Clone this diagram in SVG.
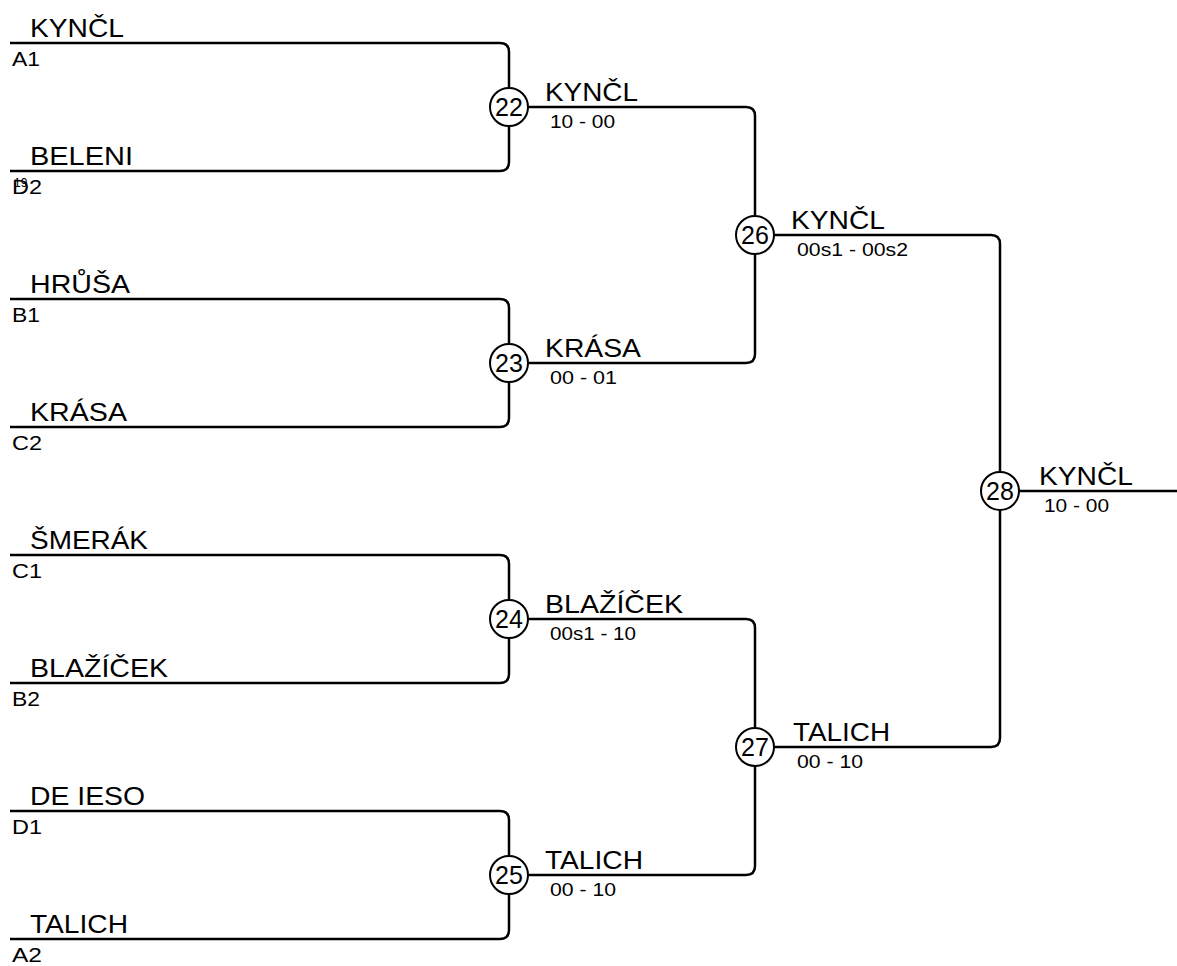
<svg xmlns="http://www.w3.org/2000/svg" width="1177" height="966" viewBox="0 0 1177 966">
<style>
text{font-family:"Liberation Sans",Arial,sans-serif;fill:#000}
.ln{fill:none;stroke:#000;stroke-width:2.5}
.c{fill:#fff;stroke:#000;stroke-width:2}
.nm{font-size:25.5px}
.cd{font-size:21px}
.sc{font-size:18px}
.no{font-size:25px;text-anchor:middle}
.tiny{font-size:12px}
</style>
<rect width="1177" height="966" fill="#fff"/>
<g id="connectors">
<path class="ln" d="M10,43 H500 Q509,43 509,52 V162 Q509,171 500,171 H10"/>
<path class="ln" d="M10,299 H500 Q509,299 509,308 V418 Q509,427 500,427 H10"/>
<path class="ln" d="M10,555 H500 Q509,555 509,564 V674 Q509,683 500,683 H10"/>
<path class="ln" d="M10,811 H500 Q509,811 509,820 V930 Q509,939 500,939 H10"/>
<path class="ln" d="M509,107 H746 Q755,107 755,116 V354 Q755,363 746,363 H509"/>
<path class="ln" d="M509,619 H746 Q755,619 755,628 V866 Q755,875 746,875 H509"/>
<path class="ln" d="M755,235 H991 Q1000,235 1000,244 V738 Q1000,747 991,747 H755"/>
<path class="ln" d="M1000,491 H1177"/>
</g>
<g id="seed-A1"><text class="nm" x="30" y="37" textLength="94" lengthAdjust="spacingAndGlyphs">KYNČL</text><text class="cd" x="12" y="66" textLength="28" lengthAdjust="spacingAndGlyphs">A1</text></g>
<g id="seed-D2"><text class="nm" x="30" y="165" textLength="103" lengthAdjust="spacingAndGlyphs">BELENI</text><text class="cd" x="12" y="194" textLength="30" lengthAdjust="spacingAndGlyphs">D2</text><text class="tiny" x="14" y="187">19</text></g>
<g id="seed-B1"><text class="nm" x="30" y="293" textLength="100" lengthAdjust="spacingAndGlyphs">HRŮŠA</text><text class="cd" x="12" y="322" textLength="28" lengthAdjust="spacingAndGlyphs">B1</text></g>
<g id="seed-C2"><text class="nm" x="30" y="421" textLength="97" lengthAdjust="spacingAndGlyphs">KRÁSA</text><text class="cd" x="12" y="450" textLength="30" lengthAdjust="spacingAndGlyphs">C2</text></g>
<g id="seed-C1"><text class="nm" x="30" y="549" textLength="118" lengthAdjust="spacingAndGlyphs">ŠMERÁK</text><text class="cd" x="12" y="578" textLength="30" lengthAdjust="spacingAndGlyphs">C1</text></g>
<g id="seed-B2"><text class="nm" x="30" y="677" textLength="138" lengthAdjust="spacingAndGlyphs">BLAŽÍČEK</text><text class="cd" x="12" y="706" textLength="28" lengthAdjust="spacingAndGlyphs">B2</text></g>
<g id="seed-D1"><text class="nm" x="30" y="805" textLength="115" lengthAdjust="spacingAndGlyphs">DE IESO</text><text class="cd" x="12" y="834" textLength="30" lengthAdjust="spacingAndGlyphs">D1</text></g>
<g id="seed-A2"><text class="nm" x="30" y="933" textLength="98" lengthAdjust="spacingAndGlyphs">TALICH</text><text class="cd" x="12" y="962" textLength="30" lengthAdjust="spacingAndGlyphs">A2</text></g>
<g id="match-22"><circle class="c" cx="509" cy="107" r="19"/><text class="no" x="509" y="116">22</text><text class="nm" x="545" y="101" textLength="93" lengthAdjust="spacingAndGlyphs">KYNČL</text><text class="sc" x="550" y="128" textLength="65" lengthAdjust="spacingAndGlyphs">10 - 00</text></g>
<g id="match-23"><circle class="c" cx="509" cy="363" r="19"/><text class="no" x="509" y="372">23</text><text class="nm" x="545" y="357" textLength="96" lengthAdjust="spacingAndGlyphs">KRÁSA</text><text class="sc" x="550" y="384" textLength="67" lengthAdjust="spacingAndGlyphs">00 - 01</text></g>
<g id="match-24"><circle class="c" cx="509" cy="619" r="19"/><text class="no" x="509" y="628">24</text><text class="nm" x="545" y="613" textLength="138" lengthAdjust="spacingAndGlyphs">BLAŽÍČEK</text><text class="sc" x="550" y="640" textLength="86" lengthAdjust="spacingAndGlyphs">00s1 - 10</text></g>
<g id="match-25"><circle class="c" cx="509" cy="875" r="19"/><text class="no" x="509" y="884">25</text><text class="nm" x="545" y="869" textLength="98" lengthAdjust="spacingAndGlyphs">TALICH</text><text class="sc" x="550" y="896" textLength="66" lengthAdjust="spacingAndGlyphs">00 - 10</text></g>
<g id="match-26"><circle class="c" cx="755" cy="235" r="19"/><text class="no" x="755" y="244">26</text><text class="nm" x="791" y="229" textLength="94" lengthAdjust="spacingAndGlyphs">KYNČL</text><text class="sc" x="797" y="256" textLength="111" lengthAdjust="spacingAndGlyphs">00s1 - 00s2</text></g>
<g id="match-27"><circle class="c" cx="755" cy="747" r="19"/><text class="no" x="755" y="756">27</text><text class="nm" x="793" y="741" textLength="97" lengthAdjust="spacingAndGlyphs">TALICH</text><text class="sc" x="797" y="768" textLength="66" lengthAdjust="spacingAndGlyphs">00 - 10</text></g>
<g id="match-28"><circle class="c" cx="1000" cy="491" r="19"/><text class="no" x="1000" y="500">28</text><text class="nm" x="1039" y="485" textLength="94" lengthAdjust="spacingAndGlyphs">KYNČL</text><text class="sc" x="1044" y="512" textLength="65" lengthAdjust="spacingAndGlyphs">10 - 00</text></g>
</svg>
